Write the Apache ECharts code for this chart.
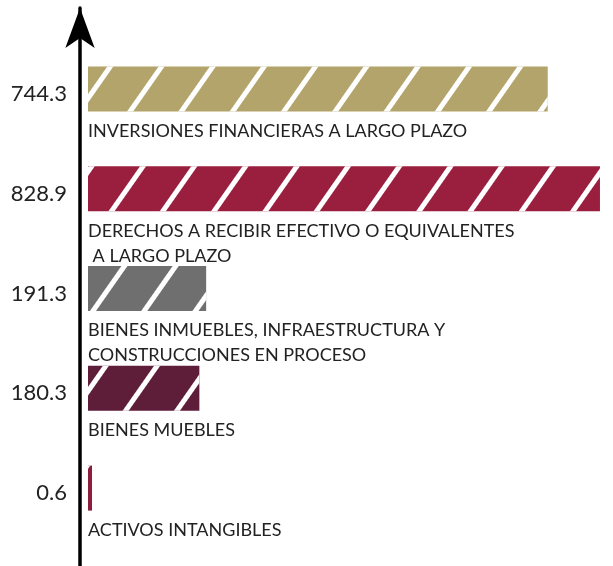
<!DOCTYPE html>
<html><head><meta charset="utf-8">
<script src="https://cdn.jsdelivr.net/npm/echarts@6/dist/echarts.min.js"></script>
<style>html,body{margin:0;padding:0;background:#fff}#c{width:613px;height:566px}</style>
</head><body><div id="c"></div>
<script>
const categories = [
  'INVERSIONES FINANCIERAS A LARGO PLAZO',
  'DERECHOS A RECIBIR EFECTIVO O EQUIVALENTES\n A LARGO PLAZO',
  'BIENES INMUEBLES, INFRAESTRUCTURA Y\nCONSTRUCCIONES EN PROCESO',
  'BIENES MUEBLES',
  'ACTIVOS INTANGIBLES'
];
const values = [744.3, 828.9, 191.3, 180.3, 0.6];
const valueLabels = ['744.3', '828.9', '191.3', '180.3', '0.6'];
const colors = ['#B2A46A', '#9A1F3F', '#6F6F6F', '#5E1D39', '#8E1C3C'];

const FONT = 'Lato';
const chart = echarts.init(document.getElementById('c'), null, {renderer: 'canvas'});
const decal = {
  symbol: 'rect', symbolSize: 1, color: '#ffffff',
  dashArrayX: [1, 0], dashArrayY: [5, 37],
  rotation: -Math.PI * 55 / 180
};
chart.setOption({
  animation: false,
  grid: [
    {left: 88, right: 0, top: 39, bottom: 28},
    {left: 80, right: 0, top: 8, bottom: -2}
  ],
  xAxis: [
    {gridIndex: 0, type: 'value', min: 0, max: 850, show: false},
    {gridIndex: 1, type: 'value', min: 0, max: 1, show: false}
  ],
  yAxis: [
    {
      gridIndex: 0, type: 'category', inverse: true, data: categories,
      axisLine: {show: false}, axisTick: {show: false}, splitLine: {show: false},
      axisLabel: {
        margin: 21, fontFamily: FONT, fontSize: 22, color: '#222',
        verticalAlign: 'top', lineHeight: 10,
        formatter: (v, i) => valueLabels[i]
      }
    },
    {
      gridIndex: 1, type: 'value', min: 0, max: 1,
      axisLabel: {show: false}, axisTick: {show: false}, splitLine: {show: false},
      axisLine: {show: true, symbol: ['none', 'arrow'], symbolSize: [22, 40],
        lineStyle: {color: '#000', width: 3.5}}
    }
  ],
  series: [{
    type: 'bar', xAxisIndex: 0, yAxisIndex: 0,
    barWidth: 45, barMinHeight: 4,
    data: values.map((v, i) => ({value: v, itemStyle: {color: colors[i], decal: decal}})),
    label: {
      show: true, position: [0, '100%'], distance: 0,
      align: 'left', verticalAlign: 'top',
      padding: [7, 0, 0, 0],
      fontFamily: FONT, fontSize: 18, color: '#222', lineHeight: 25,
      formatter: p => categories[p.dataIndex]
    }
  }]
});
</script></body></html>
